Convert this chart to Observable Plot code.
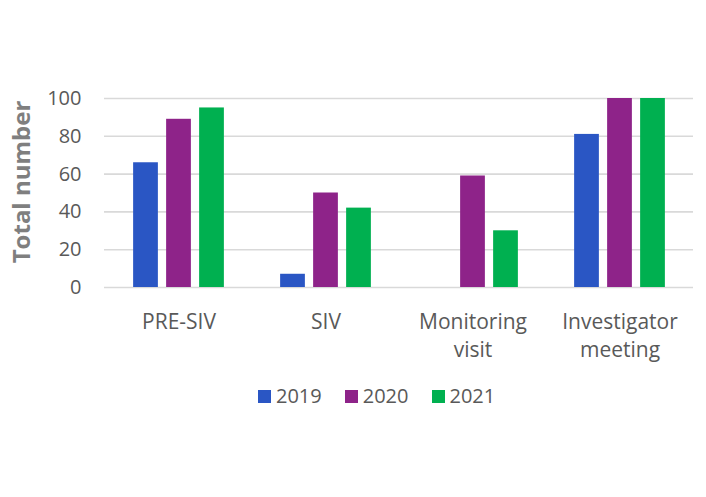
<!DOCTYPE html>
<html>
<head>
<meta charset="utf-8">
<script src="https://cdn.jsdelivr.net/npm/d3@7"></script>
<script src="https://cdn.jsdelivr.net/npm/@observablehq/plot@0.6"></script>
<style>
  html, body { margin: 0; padding: 0; background: #fff; }
  #wrap { position: relative; width: 706px; height: 497px; font-family: "Open Sans", sans-serif; }
  #legend { position: absolute; top: 382px; left: 258px; display: flex; align-items: center; font-size: 20px; color: #595959; line-height: 28px; }
  #legend .item { display: flex; align-items: center; margin-right: 23px; }
  #legend .sw { width: 13px; height: 13px; margin-right: 5px; }
</style>
</head>
<body>
<div id="wrap"></div>
<script>
const categories = ["PRE-SIV", "SIV", "Monitoring\nvisit", "Investigator\nmeeting"];
const years = ["2019", "2020", "2021"];
const values2019 = [66, 7, null, 81];
const values2020 = [89, 50, 59, 100];
const values2021 = [95, 42, 30, 100];
const yTicks = [0, 20, 40, 60, 80, 100];
const colors = ["#2a56c4", "#8e2389", "#00b050"];

const series = [values2019, values2020, values2021];
const offsets = [-33, 0, 33];

const tables = series.map(vals => categories.map((c, i) => ({cat: c, v: vals[i]})).filter(d => d.v != null));

const W = 706, H = 370;
const mL = 104, mR = 13, mT = 98, mB = 83;
const step = (W - mL - mR) / categories.length;
const inset = (step - 25) / 2;

const chart = Plot.plot({
  width: W,
  height: H,
  marginLeft: mL,
  marginRight: mR,
  marginTop: mT,
  marginBottom: mB,
  style: {fontFamily: "Open Sans, sans-serif", background: "#fff"},
  x: {domain: categories, padding: 0},
  y: {domain: [0, 100], ticks: yTicks},
  marks: [
    Plot.ruleY(yTicks, {stroke: "#d9d9d9", strokeWidth: 1.6}),
    ...tables.map((t, k) => Plot.barY(t, {
      x: "cat", y: "v", fill: colors[k], dx: offsets[k],
      insetLeft: inset, insetRight: inset
    })),
    Plot.axisX({tickSize: 0, tickPadding: 22, fontSize: 21, lineHeight: 1.33, fill: "#595959", label: null}),
    Plot.axisY({ticks: yTicks, tickSize: 0, tickPadding: 23, fontSize: 20, fill: "#595959", label: null}),
    Plot.text(["Total number"], {frameAnchor: "left", textAnchor: "middle", rotate: -90, dx: -82, dy: -11, fontSize: 24, fontWeight: "bold", fill: "#7f7f7f"})
  ]
});

const wrap = document.getElementById("wrap");
wrap.appendChild(chart);

const legend = document.createElement("div");
legend.id = "legend";
years.forEach((y, k) => {
  const it = document.createElement("div");
  it.className = "item";
  const sw = document.createElement("div");
  sw.className = "sw";
  sw.style.background = colors[k];
  it.appendChild(sw);
  const tx = document.createElement("span");
  tx.textContent = y;
  it.appendChild(tx);
  legend.appendChild(it);
});
wrap.appendChild(legend);
</script>
</body>
</html>
